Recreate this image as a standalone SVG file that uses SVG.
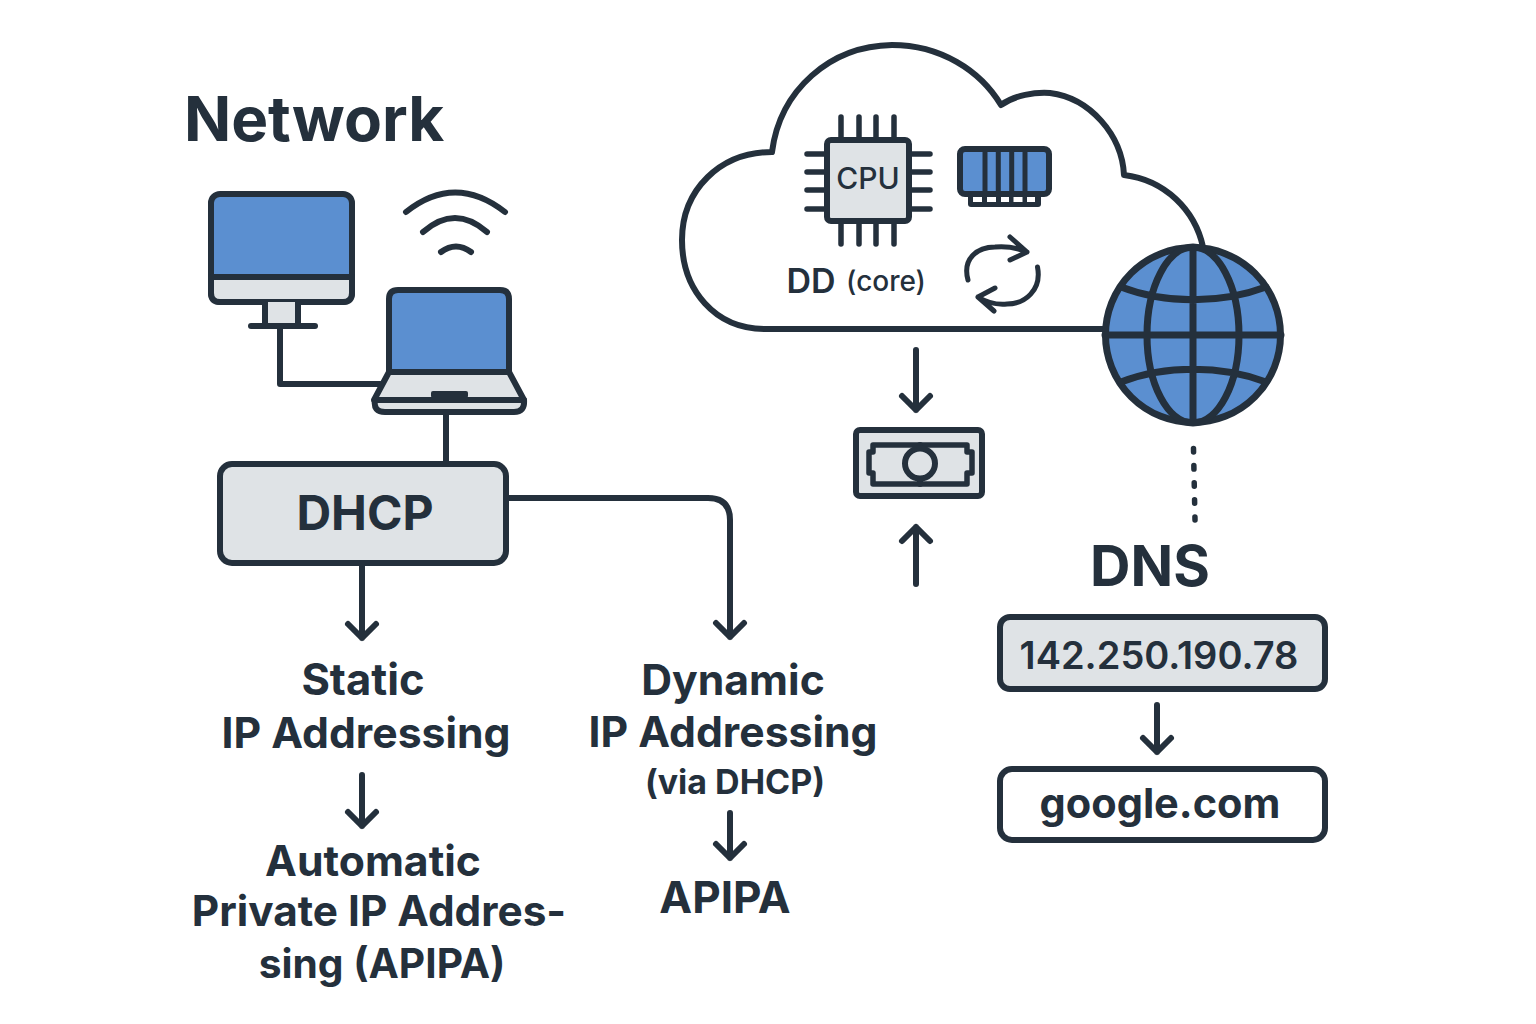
<svg xmlns="http://www.w3.org/2000/svg" width="1536" height="1024" viewBox="0 0 1536 1024">
<style>
.s{fill:none;stroke:#24303c;stroke-width:6;stroke-linecap:round;stroke-linejoin:round}
.t{stroke:#24303c;stroke-width:5;fill:none;stroke-linecap:round;stroke-linejoin:round}
.b{fill:#5b8fd0;stroke:#24303c;stroke-width:6;stroke-linejoin:round}
.g{fill:#dfe3e6;stroke:#24303c;stroke-width:6;stroke-linejoin:round}
.w{fill:#fff;stroke:#24303c;stroke-width:6;stroke-linejoin:round}
text{font-family:Inter,"Liberation Sans",sans-serif;font-weight:650;fill:#24303c;text-anchor:middle}
.l{font-size:42.7px}
</style>
<rect width="1536" height="1024" fill="#fff"/>
<g id="connectors">
<path class="s" d="M280 326V384H380"/>
<path class="s" d="M446 412V463"/>
<path class="s" d="M506 498H708Q730 498 730 520V637M716 623L730 637L744 623"/>
<path class="s" d="M362 565V638M348 624L362 638L376 624"/>
<path class="s" d="M362 775V826M348 812L362 826L376 812"/>
<path class="s" d="M730 813V858M716 844L730 858L744 844"/>
<path class="s" d="M916 350V410M902 396L916 410L930 396"/>
<path class="s" d="M916 584V527M902 541L916 527L930 541"/>
<path class="s" d="M1157 705V752M1143 738L1157 752L1171 738"/>
<path class="s" d="M1193.500 448.500L1195 520" stroke-dasharray="3.500 13.600" style="stroke-width:5.500"/>
</g>
<g id="title"><text x="314" y="141" style="font-size:62px;font-weight:700">Network</text></g>
<g id="monitor">
<rect class="b" x="211" y="194" width="141" height="108" rx="9"/>
<path class="g" d="M211 277H352V293Q352 302 343 302H220Q211 302 211 293Z"/>
<path class="g" d="M265 302V326H298V302"/>
<path class="s" d="M251 326H315"/>
</g>
<g id="wifi">
<path class="s" d="M406 212Q455 173 505 212"/>
<path class="s" d="M423 232Q455 204 487 232"/>
<path class="s" d="M441 252Q456 241 471 252"/>
</g>
<g id="laptop">
<path class="b" d="M389 372V299Q389 290 398 290H500Q509 290 509 299V372Z"/>
<path class="g" d="M389 372H509L524 400H374Z"/>
<path class="g" d="M375 400H524Q525 412 514 412H385Q373 412 375 400Z"/>
<rect x="431" y="391" width="37" height="7" rx="2" fill="#24303c"/>
</g>
<g id="dhcp">
<rect class="g" x="220" y="464" width="286" height="99" rx="12"/>
<text x="365" y="530" style="font-size:48px">DHCP</text>
</g>
<g id="static"><text x="363" y="695" style="font-size:43.500px">Static</text><text class="l" x="366" y="748">IP Addressing</text></g>
<g id="apipa-long"><text class="l" x="373" y="876">Automatic</text><text x="379" y="926" style="font-size:42.300px">Private IP Addres-</text><text x="382" y="978" style="font-size:40.700px">sing (APIPA)</text></g>
<g id="dynamic"><text class="l" x="733" y="695">Dynamic</text><text class="l" x="733" y="747">IP Addressing</text><text x="735" y="794" style="font-size:34px">(via DHCP)</text></g>
<g id="apipa"><text x="725" y="913" style="font-size:44px">APIPA</text></g>
<g id="cloud">
<path class="s" d="M1103 329H765C715 329 682 290 682 240C682 190 720 152 772 152C780 90 830 46 892 45C940 45 980 70 1001 105C1015 95 1035 92 1050 93C1090 98 1122 135 1124 175C1165 180 1195 210 1203 247"/>
</g>
<g id="cpu">
<path class="s" style="stroke-width:5.500" d="M841 117V138M859 117V138M876 117V138M894 117V138M841 223V244M859 223V244M876 223V244M894 223V244M807 154H825M807 172H825M807 190H825M807 209H825M910 154H930M910 172H930M910 190H930M910 209H930"/>
<rect class="g" x="827" y="140" width="82" height="81" rx="4"/>
<text x="868" y="189" style="font-size:30px;font-weight:550">CPU</text>
</g>
<g id="ram">
<rect x="968" y="190" width="73" height="17" rx="3" fill="#24303c"/>
<path fill="#fff" d="M973 197h9v5h-9zM987 197h9v5h-9zM1001 197h8v5h-8zM1013.500 197h9v5h-9zM1027 197h8v5h-8z"/>
<rect class="b" x="960" y="149" width="89" height="45" rx="5"/>
<path class="s" style="stroke-linecap:butt;stroke-width:5" d="M985 149V194M998.300 149V194M1011.700 149V194M1025 149V194"/>
</g>
<g id="refresh">
<path class="t" d="M968 280C962 258 978 247 995 247C1007 246 1018 248 1027 252M1010 237L1027 252L1010 260"/>
<path class="t" d="M1037.500 267C1042 290 1025 304 1007 304C996 305 986 302 978 297M995 288L978 297L994 311"/>
</g>
<g id="core"><text x="811" y="293" style="font-size:34px;font-weight:600">DD</text><text x="886" y="291" style="font-size:28px;font-weight:550">(core)</text></g>
<g id="globe">
<circle cx="1193" cy="335" r="87.500" fill="#5b8fd0" stroke="#24303c" stroke-width="7"/>
<path class="s" style="stroke-width:7" d="M1105 335H1281M1193 247V423M1193 247A46 88 0 0 0 1193 423M1193 247A46 88 0 0 1 1193 423M1121 287C1165 304 1221 304 1266 287M1121 382C1165 365 1221 365 1266 382"/>
</g>
<g id="money">
<rect class="g" x="856" y="430" width="126" height="66" rx="4"/>
<path class="g" style="stroke-width:5.500" d="M873 445H967V452H972V473H967V484H873V473H869V452H873Z"/>
<path class="s" d="M920 445V484"/>
<circle class="g" cx="920" cy="463.500" r="15"/>
</g>
<g id="dns"><text x="1150" y="586" style="font-size:56px;font-weight:700">DNS</text></g>
<g id="ip"><rect class="g" x="1000" y="617" width="325" height="72" rx="10"/><text x="1159" y="669" style="font-size:38px;font-weight:600">142.250.190.78</text></g>
<g id="google"><rect class="w" x="1000" y="769" width="325" height="71" rx="12"/><text x="1160" y="818" style="font-size:41.500px">google.com</text></g>
</svg>
